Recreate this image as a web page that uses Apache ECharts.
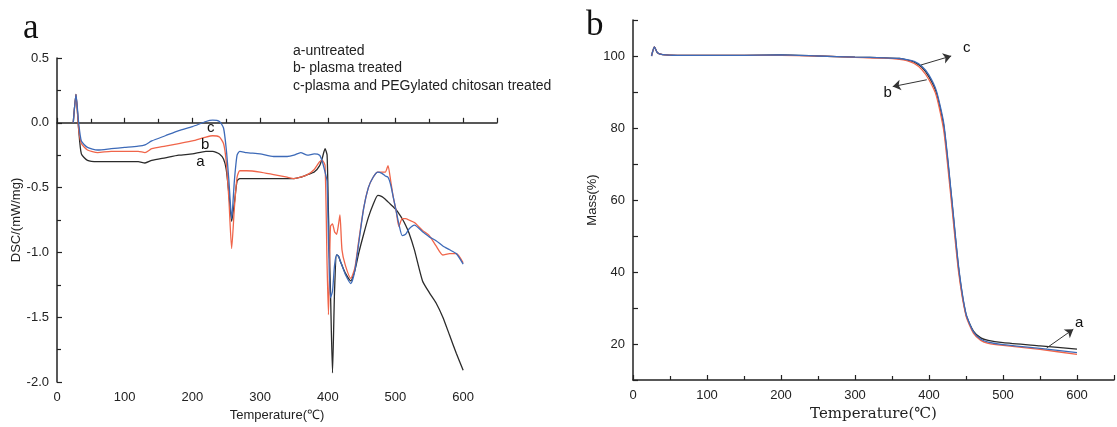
<!DOCTYPE html>
<html>
<head>
    <meta charset="utf-8">
    <title>DSC / TGA</title>
    <script src="https://cdn.jsdelivr.net/npm/echarts@6/dist/echarts.min.js"></script>
</head>
<body style="margin:0;background:#fff">
    <div id="main" style="width:1117px;height:427px;"></div>
    <script>
        // ---- 左图 DSC 数据 ----
        var dscTemp = [24, 28, 32, 36, 45, 60, 80, 100, 120, 130, 140, 160, 180, 200, 220, 230, 240, 246, 250, 254,
            258, 262, 266, 270, 280, 300, 320, 340, 350, 360, 370, 380, 388, 392, 396, 399, 401, 404, 407, 410,
            413, 416, 418, 421, 426, 434, 440, 446, 453, 460, 467, 474, 480, 485, 489, 493, 497, 501, 505, 510,
            515, 520, 528, 540, 550, 560, 570, 580, 590, 600];
        var dscA = [0.0, 0.22, -0.05, -0.24, -0.29, -0.30, -0.30, -0.30, -0.30, -0.31, -0.29, -0.27, -0.25, -0.24, -0.22, -0.22, -0.24, -0.28, -0.36, -0.55,
            -0.76, -0.62, -0.45, -0.43, -0.43, -0.43, -0.43, -0.43, -0.43, -0.42, -0.40, -0.38, -0.33, -0.27, -0.20, -0.25, -0.70, -1.30, -1.93, -1.30,
            -1.02, -1.03, -1.06, -1.10, -1.16, -1.22, -1.14, -1.00, -0.86, -0.73, -0.63, -0.56, -0.57, -0.59, -0.61, -0.63, -0.65, -0.67, -0.70, -0.74,
            -0.79, -0.85, -0.98, -1.22, -1.31, -1.39, -1.50, -1.64, -1.78, -1.91];
        var dscB = [0.0, 0.22, -0.05, -0.16, -0.21, -0.23, -0.22, -0.22, -0.22, -0.23, -0.20, -0.18, -0.16, -0.14, -0.11, -0.10, -0.11, -0.16, -0.30, -0.60,
            -0.97, -0.66, -0.42, -0.37, -0.37, -0.38, -0.40, -0.42, -0.43, -0.42, -0.40, -0.36, -0.30, -0.29, -0.33, -1.10, -1.48, -0.80, -0.78, -0.84,
            -0.86, -0.78, -0.71, -0.98, -1.10, -1.20, -1.12, -0.90, -0.66, -0.50, -0.42, -0.38, -0.38, -0.38, -0.33, -0.45, -0.58, -0.68, -0.80, -0.74,
            -0.74, -0.75, -0.77, -0.83, -0.87, -0.95, -1.02, -1.01, -1.01, -1.08];
        var dscC = [0.0, 0.22, 0.0, -0.14, -0.19, -0.21, -0.20, -0.19, -0.18, -0.17, -0.14, -0.10, -0.06, -0.03, 0.01, 0.02, 0.01, -0.04, -0.20, -0.45,
            -0.74, -0.45, -0.25, -0.22, -0.23, -0.24, -0.26, -0.26, -0.25, -0.23, -0.25, -0.24, -0.25, -0.30, -0.38, -0.45, -0.90, -1.35, -1.30, -1.10,
            -1.02, -1.03, -1.06, -1.10, -1.17, -1.24, -1.14, -0.92, -0.66, -0.50, -0.42, -0.38, -0.39, -0.41, -0.42, -0.48, -0.58, -0.68, -0.78, -0.87,
            -0.86, -0.82, -0.79, -0.84, -0.88, -0.91, -0.95, -0.98, -1.01, -1.09];

        // ---- 右图 TGA 数据 ----
        var tgaTemp = [25, 29, 33, 40, 60, 100, 150, 200, 250, 300, 340, 360, 370, 380, 390, 400, 410, 420, 430, 440,
            450, 460, 470, 480, 500, 550, 600];
        var tgaA = [100.0, 102.5, 100.9, 100.4, 100.2, 100.2, 100.2, 100.3, 100.0, 99.7, 99.5, 99.3, 98.9, 98.3, 96.9, 94.2, 89.8, 80.5, 61.5, 41.0,
            28.2, 23.6, 21.7, 21.0, 20.4, 19.5, 18.6];
        var tgaB = [100.0, 102.5, 100.9, 100.4, 100.2, 100.2, 100.2, 100.2, 100.0, 99.6, 99.4, 99.1, 98.7, 97.9, 96.3, 93.4, 88.9, 79.2, 60.0, 40.0,
            27.8, 23.0, 21.0, 20.2, 19.6, 18.5, 17.1];
        var tgaC = [100.0, 102.5, 100.9, 100.4, 100.2, 100.2, 100.2, 100.3, 100.0, 99.7, 99.5, 99.3, 99.0, 98.5, 97.2, 94.7, 90.3, 81.2, 62.0, 41.5,
            28.4, 23.4, 21.3, 20.5, 19.8, 18.8, 17.6];

        var xTicks = [0, 100, 200, 300, 400, 500, 600];
        var dscTicks = [-2.0, -1.5, -1.0, -0.5, 0.0, 0.5];
        var massTicks = [20, 40, 60, 80, 100];

        var legendLines = ['a-untreated', 'b- plasma treated', 'c-plasma and PEGylated chitosan treated'];

        var colA = '#2b2b2b', colB = '#f0654a', colC = '#3d6ab8';

        function pairs(xs, ys) {
            return xs.map(function (x, i) { return [x, ys[i]]; });
        }

        var axisCommon = {
            axisLine: { lineStyle: { color: '#222', width: 1.5 } },
            axisTick: { inside: true, length: 5, lineStyle: { color: '#222', width: 1.2 } },
            minorTick: { show: true, splitNumber: 2, length: 4, lineStyle: { color: '#222', width: 1.2 } },
            splitLine: { show: false },
            axisLabel: { color: '#222', fontSize: 13, fontFamily: 'Liberation Sans' }
        };

        function xAxisCfg(idx, nameFont, nameSize) {
            return Object.assign({}, axisCommon, {
                type: 'value', gridIndex: idx, min: 0, max: 650, interval: 100,
                name: 'Temperature(\u2103)', nameLocation: 'middle', nameGap: 27,
                nameTextStyle: { color: '#222', fontSize: nameSize, fontFamily: nameFont },
                axisLabel: Object.assign({}, axisCommon.axisLabel, {
                    margin: 9,
                    formatter: function (v) { return xTicks.indexOf(v) >= 0 ? String(v) : ''; }
                })
            });
        }

        function lineSeries(name, xi, data, color) {
            return {
                name: name, type: 'line', xAxisIndex: xi, yAxisIndex: xi,
                data: data, showSymbol: false, smooth: 0.2,
                lineStyle: { color: color, width: 1.3 }, z: 3
            };
        }

        var tagLabel = { show: true, color: '#111', fontSize: 15, fontFamily: 'Liberation Sans' };
        var arrowLine = { color: '#333', width: 1, type: 'solid' };
        var panelTitle = { fontFamily: 'Liberation Serif', fontSize: 35, fontWeight: 'normal', color: '#111' };

        var option = {
            animation: false,
            title: [
                { text: 'a', left: 18, top: 6, textStyle: panelTitle },
                { text: 'b', left: 581, top: 3, textStyle: panelTitle }
            ],
            graphic: [{
                type: 'text', left: 293, top: 42,
                style: { text: legendLines.join('\n'), fill: '#222', fontSize: 14, lineHeight: 17.5, fontFamily: 'Liberation Sans' }
            }],
            grid: [
                { left: 57, top: 58, width: 440, height: 328 },
                { left: 633, top: 20, width: 491, height: 366 }
            ],
            xAxis: [xAxisCfg(0, 'Liberation Sans', 13), xAxisCfg(1, 'DejaVu Serif', 15)],
            yAxis: [
                Object.assign({}, axisCommon, {
                    type: 'value', gridIndex: 0, min: -2, max: 0.5, interval: 0.5,
                    name: 'DSC/(mW/mg)', nameLocation: 'middle', nameGap: 33,
                    nameTextStyle: { color: '#222', fontSize: 13, fontFamily: 'Liberation Sans' },
                    axisLabel: Object.assign({}, axisCommon.axisLabel, {
                        formatter: function (v) { return v.toFixed(1); }
                    })
                }),
                Object.assign({}, axisCommon, {
                    type: 'value', gridIndex: 1, min: 10, max: 110, interval: 10,
                    name: 'Mass(%)', nameLocation: 'middle', nameGap: 34,
                    nameTextStyle: { color: '#222', fontSize: 13, fontFamily: 'Liberation Sans' },
                    minorTick: { show: false },
                    axisLabel: Object.assign({}, axisCommon.axisLabel, {
                        formatter: function (v) { return massTicks.indexOf(v) >= 0 ? String(v) : ''; }
                    })
                })
            ],
            series: [
                Object.assign(lineSeries('a', 0, pairs(dscTemp, dscA), colA), {
                    markPoint: { symbolSize: 0, label: tagLabel, data: [{ coord: [212, -0.30], value: 'a' }] }
                }),
                Object.assign(lineSeries('b', 0, pairs(dscTemp, dscB), colB), {
                    markPoint: { symbolSize: 0, label: tagLabel, data: [{ coord: [219, -0.17], value: 'b' }] }
                }),
                Object.assign(lineSeries('c', 0, pairs(dscTemp, dscC), colC), {
                    markPoint: { symbolSize: 0, label: tagLabel, data: [{ coord: [227, -0.04], value: 'c' }] }
                }),
                Object.assign(lineSeries('a', 1, pairs(tgaTemp, tgaA), colA), {
                    markLine: {
                        silent: true, symbol: ['none', 'arrow'], symbolSize: 8, lineStyle: arrowLine,
                        label: { show: false },
                        data: [[{ coord: [559, 18.9] }, { coord: [595, 24.1] }]]
                    },
                    markPoint: { symbolSize: 0, label: tagLabel, data: [{ coord: [603, 25.8], value: 'a' }] }
                }),
                Object.assign(lineSeries('b', 1, pairs(tgaTemp, tgaB), colB), {
                    markLine: {
                        silent: true, symbol: ['none', 'arrow'], symbolSize: 8, lineStyle: arrowLine,
                        label: { show: false },
                        data: [[{ coord: [397, 93.4] }, { coord: [351, 91.5] }]]
                    },
                    markPoint: { symbolSize: 0, label: tagLabel, data: [{ coord: [344, 89.8], value: 'b' }] }
                }),
                Object.assign(lineSeries('c', 1, pairs(tgaTemp, tgaC), colC), {
                    markLine: {
                        silent: true, symbol: ['none', 'arrow'], symbolSize: 8, lineStyle: arrowLine,
                        label: { show: false },
                        data: [[{ coord: [389, 97.5] }, { coord: [430, 100.0] }]]
                    },
                    markPoint: { symbolSize: 0, label: tagLabel, data: [{ coord: [451, 102.3], value: 'c' }] }
                })
            ]
        };

        var myChart = echarts.init(document.getElementById('main'));
        myChart.setOption(option);
    </script>
</body>
</html>
